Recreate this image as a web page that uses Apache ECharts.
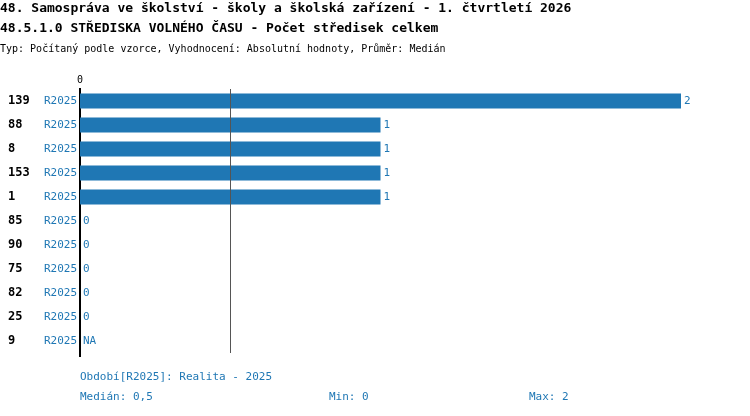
<!DOCTYPE html><html><head><meta charset="utf-8"><script src="https://cdn.jsdelivr.net/npm/echarts@6/dist/echarts.min.js"></script><style>body{margin:0}#c{width:750px;height:416px}</style></head><body><div id="c"></div><script>
const codes=['139','88','8','153','1','85','90','75','82','25','9'];
const periods=['R2025','R2025','R2025','R2025','R2025','R2025','R2025','R2025','R2025','R2025','R2025'];
const values=[2,1,1,1,1,0,0,0,0,0,null];
const median=0.5;
const blue='#1f77b4', F='DejaVu Sans Mono';
const data=values.map(v=>v===null?{value:0,label:{formatter:'NA'}}:v);
const ch=echarts.init(document.getElementById('c'));
ch.setOption({animation:false,
grid:{left:80,right:69,top:89,height:264},
xAxis:{type:'value',min:0,max:2,position:'top',splitLine:{show:false},axisLine:{show:false},axisTick:{show:false},
 axisLabel:{fontFamily:F,fontSize:10,color:'#000',margin:4,formatter:v=>v===0?'0':''}},
yAxis:[{type:'category',inverse:true,data:periods,axisTick:{show:false},axisLine:{lineStyle:{color:'#000',width:2}},
 axisLabel:{fontFamily:F,fontSize:11,color:blue,margin:3}},
 {type:'category',inverse:true,position:'left',data:codes,axisTick:{show:false},axisLine:{show:false},
 axisLabel:{fontFamily:F,fontSize:12,fontWeight:'bold',color:'#000',align:'left',margin:72}}],
series:[{type:'bar',data:data,barWidth:15,itemStyle:{color:blue},
 label:{show:true,position:'right',distance:3,fontFamily:F,fontSize:11,color:blue},
 markLine:{silent:true,symbol:'none',label:{show:false},lineStyle:{color:'#555',width:1,type:'solid'},data:[{xAxis:median}]}}],
graphic:[
 {type:'line',shape:{x1:80,y1:88,x2:80,y2:357},style:{stroke:'#000',lineWidth:2}},
 {type:'text',left:0,top:2,style:{text:'48. Samospráva ve školství - školy a školská zařízení - 1. čtvrtletí 2026',font:'bold 13px '+F,fill:'#000'}},
 {type:'text',left:0,top:22,style:{text:'48.5.1.0 STŘEDISKA VOLNÉHO ČASU - Počet středisek celkem',font:'bold 13px '+F,fill:'#000'}},
 {type:'text',left:0,top:44,style:{text:'Typ: Počítaný podle vzorce, Vyhodnocení: Absolutní hodnoty, Průměr: Medián',font:'10px '+F,fill:'#000'}},
 {type:'text',left:80,top:372,style:{text:'Období[R2025]: Realita - 2025',font:'11px '+F,fill:blue}},
 {type:'text',left:80,top:392,style:{text:'Medián: 0,5',font:'11px '+F,fill:blue}},
 {type:'text',left:329,top:392,style:{text:'Min: 0',font:'11px '+F,fill:blue}},
 {type:'text',left:529,top:392,style:{text:'Max: 2',font:'11px '+F,fill:blue}}
]});
</script></body></html>
